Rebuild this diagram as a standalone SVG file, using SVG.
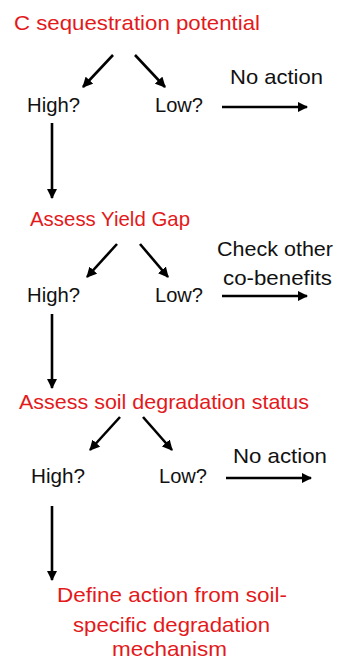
<svg xmlns="http://www.w3.org/2000/svg" width="337" height="660" viewBox="0 0 337 660">
<defs>
<marker id="ah" viewBox="0 0 10 10" refX="9" refY="5" markerWidth="4" markerHeight="4" orient="auto" markerUnits="strokeWidth">
<path d="M0,0 L10,5 L0,10 z" fill="#000"/>
</marker>
<style>
text{font-family:"Liberation Sans",Arial,sans-serif;font-size:21px}
.r{fill:#e3191b}
.k{fill:#111}
.c{stroke:#000;stroke-width:2.6;fill:none;marker-end:url(#ah)}
</style>
</defs>
<rect width="337" height="660" fill="#fff"/>
<g id="n-csp"><text class="r" x="14" y="30" textLength="246" lengthAdjust="spacingAndGlyphs">C sequestration potential</text></g>
<g id="n-high1"><text class="k" x="27" y="112" textLength="53" lengthAdjust="spacingAndGlyphs">High?</text></g>
<g id="n-low1"><text class="k" x="155" y="112" textLength="48" lengthAdjust="spacingAndGlyphs">Low?</text></g>
<g id="n-noaction1"><text class="k" x="230" y="84" textLength="93" lengthAdjust="spacingAndGlyphs">No action</text></g>
<g id="n-yield"><text class="r" x="30" y="226" textLength="160" lengthAdjust="spacingAndGlyphs">Assess Yield Gap</text></g>
<g id="n-high2"><text class="k" x="27" y="302" textLength="53" lengthAdjust="spacingAndGlyphs">High?</text></g>
<g id="n-low2"><text class="k" x="155" y="302" textLength="48" lengthAdjust="spacingAndGlyphs">Low?</text></g>
<g id="n-check"><text class="k" x="217" y="256" textLength="116" lengthAdjust="spacingAndGlyphs">Check other</text><text class="k" x="223" y="285" textLength="109" lengthAdjust="spacingAndGlyphs">co-benefits</text></g>
<g id="n-soil"><text class="r" x="19" y="409" textLength="290" lengthAdjust="spacingAndGlyphs">Assess soil degradation status</text></g>
<g id="n-high3"><text class="k" x="31" y="483" textLength="54" lengthAdjust="spacingAndGlyphs">High?</text></g>
<g id="n-low3"><text class="k" x="159" y="483" textLength="48" lengthAdjust="spacingAndGlyphs">Low?</text></g>
<g id="n-noaction2"><text class="k" x="233" y="463" textLength="94" lengthAdjust="spacingAndGlyphs">No action</text></g>
<g id="n-define"><text class="r" x="57" y="602" textLength="230" lengthAdjust="spacingAndGlyphs">Define action from soil-</text><text class="r" x="73" y="632" textLength="197" lengthAdjust="spacingAndGlyphs">specific degradation</text><text class="r" x="112" y="656" textLength="115" lengthAdjust="spacingAndGlyphs">mechanism</text></g>
<g id="connectors">
<line class="c" x1="113" y1="55" x2="83" y2="87"/>
<line class="c" x1="135" y1="55" x2="165" y2="87"/>
<line class="c" x1="222" y1="107" x2="307" y2="107"/>
<line class="c" x1="52" y1="123" x2="52" y2="198"/>
<line class="c" x1="117" y1="244" x2="87" y2="277"/>
<line class="c" x1="140" y1="244" x2="168" y2="277"/>
<line class="c" x1="222" y1="296" x2="307" y2="296"/>
<line class="c" x1="52" y1="314" x2="52" y2="388"/>
<line class="c" x1="120" y1="417" x2="90" y2="450"/>
<line class="c" x1="143" y1="417" x2="172" y2="450"/>
<line class="c" x1="226" y1="478" x2="311" y2="478"/>
<line class="c" x1="52" y1="506" x2="52" y2="580"/>
</g>
</svg>
